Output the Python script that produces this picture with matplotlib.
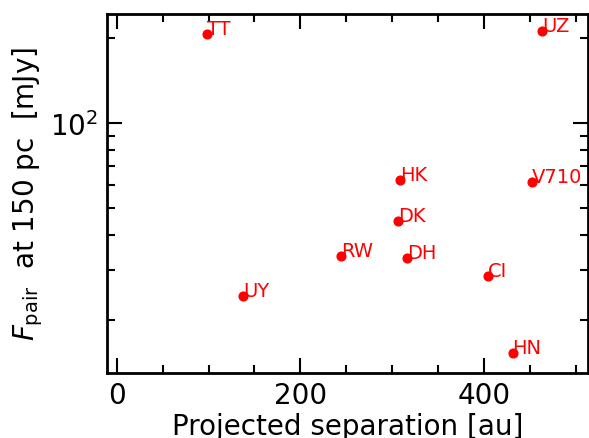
import matplotlib
matplotlib.use('Agg')
import matplotlib.pyplot as plt
from matplotlib.ticker import MultipleLocator, NullFormatter, LogLocator

# pair names, projected separation [au], flux of the pair at 150 pc [mJy]
names = ['TT', 'UZ', 'UY', 'HK', 'V710', 'DK', 'RW', 'DH', 'CI', 'HN']
sep_au = [98, 463, 138, 309, 452, 306, 244, 316, 404, 431]
flux_mjy = [206, 212, 24.3, 62.5, 61.7, 44.7, 33.7, 33.0, 28.7, 15.3]

fig = plt.figure(figsize=(5.89, 4.39), dpi=100)
ax = fig.add_axes([0.181, 0.149, 0.817, 0.817])

ax.plot(sep_au, flux_mjy, 'o', color='red', ms=6.3, ls='none')
for name, x, y in zip(names, sep_au, flux_mjy):
    ax.text(x, y, name, color='red', fontsize=14, ha='left', va='baseline')

ax.set_yscale('log')
ax.set_xlim(-11, 513)
ax.set_ylim(13, 243)

ax.xaxis.set_major_locator(MultipleLocator(200))
ax.xaxis.set_minor_locator(MultipleLocator(50))
ax.yaxis.set_minor_locator(LogLocator(base=10, subs=range(2, 10)))
ax.yaxis.set_minor_formatter(NullFormatter())

ax.tick_params(which='both', direction='in', top=True, right=True, width=1.5)
ax.tick_params(which='major', length=11, labelsize=20, pad=6)
ax.tick_params(which='minor', length=6)
for sp in ax.spines.values():
    sp.set_linewidth(2)

ax.set_xlabel('Projected separation [au]', fontsize=20, labelpad=2)
ax.set_ylabel(r'$F_{\rm pair}$  at 150 pc  [mJy]', fontsize=20)

fig.savefig('out.png', dpi=100)
